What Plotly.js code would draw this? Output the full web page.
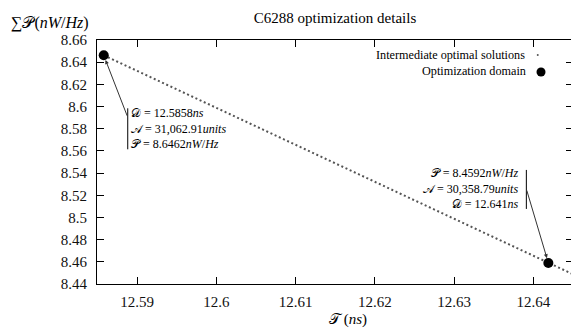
<!DOCTYPE html>
<html><head><meta charset="utf-8">
<script src="https://cdn.plot.ly/plotly-3.0.1.min.js"></script>
<style>html,body{margin:0;padding:0;overflow:hidden;background:#fff}</style>
</head><body><div id="chart" style="width:573px;height:330px"></div>
<script>
// Data
const titleText = 'C6288 optimization details';
const seriesNames = ['Intermediate optimal solutions', 'Optimization domain'];
const solutionsX = [12.5858, 12.6460];   // intermediate optimal solutions (run off the right edge)
const solutionsY = [8.6462, 8.4455];
const domainX = [12.5858, 12.6419];
const domainY = [8.6462, 8.4590];
const delayLabels = ['12.5858', '12.641'];
const powerLabels = ['8.6462', '8.4592'];
const areaLabels = ['31,062.91', '30,358.79'];
const xTicks = [12.59, 12.6, 12.61, 12.62, 12.63, 12.64];
const xTickLabels = ['12.59', '12.6', '12.61', '12.62', '12.63', '12.64'];
const yTicks = [8.44, 8.46, 8.48, 8.5, 8.52, 8.54, 8.56, 8.58, 8.6, 8.62, 8.64, 8.66];
const yTickLabels = ['8.44', '8.46', '8.48', '8.5', '8.52', '8.54', '8.56', '8.58', '8.6', '8.62', '8.64', '8.66'];

const SERIF = 'Liberation Serif';
const MATH = 'Liberation Serif, DejaVu Serif, serif';

const traces = [
  {x: solutionsX, y: solutionsY, mode: 'lines', name: seriesNames[0], showlegend: false,
   line: {color: '#555', width: 2, dash: '2px,2.6px'}},
  {x: domainX, y: domainY, mode: 'markers', name: seriesNames[1], showlegend: false,
   marker: {color: '#000', size: 10}, cliponaxis: false}
];

const lines1 = ['𝒟 = ' + delayLabels[0] + '<i>ns</i>',
                '𝒜 = ' + areaLabels[0] + '<i>units</i>',
                '𝒫 = ' + powerLabels[0] + '<i>nW</i>/<i>Hz</i>'];
const lines2 = ['𝒫 = ' + powerLabels[1] + '<i>nW</i>/<i>Hz</i>',
                '𝒜 = ' + areaLabels[1] + '<i>units</i>',
                '𝒟 = ' + delayLabels[1] + '<i>ns</i>'];

const annFont = {family: MATH, size: 12, color: '#000'};
const annotations = [
  {x: domainX[0], y: domainY[0], xref: 'x', yref: 'y', text: '', showarrow: true,
   ax: 24, ay: 62, arrowhead: 2, arrowsize: 0.8, arrowwidth: 1, arrowcolor: '#333', standoff: 5},
  {x: domainX[1], y: domainY[1], xref: 'x', yref: 'y', text: '', showarrow: true,
   ax: -22, ay: -74, arrowhead: 2, arrowsize: 0.8, arrowwidth: 1, arrowcolor: '#333', standoff: 5},
  {x: domainX[0], y: domainY[0], xref: 'x', yref: 'y', text: lines1.join('<br>'), showarrow: false,
   xanchor: 'left', yanchor: 'middle', align: 'left', xshift: 25, yshift: -73, font: annFont},
  {x: domainX[1], y: domainY[1], xref: 'x', yref: 'y', text: lines2.join('<br>'), showarrow: false,
   xanchor: 'right', yanchor: 'middle', align: 'right', xshift: -28, yshift: 74, font: annFont},
  // y-axis label (horizontal, top-left)
  {xref: 'paper', yref: 'paper', x: -0.185, y: 1.07, xanchor: 'left', yanchor: 'middle',
   text: '∑𝒫(<i>nW</i>/<i>Hz</i>)', showarrow: false, font: {family: MATH, size: 16, color: '#000'}},
  // x-axis label
  {xref: 'paper', yref: 'paper', x: 0.527, y: -0.145, xanchor: 'center', yanchor: 'middle',
   text: '𝒯 (<i>ns</i>)', showarrow: false, font: {family: MATH, size: 15, color: '#000'}},
  // legend texts
  {xref: 'paper', yref: 'paper', x: 0.904, y: 0.9385, xanchor: 'right', yanchor: 'middle',
   text: seriesNames[0], showarrow: false, font: {family: SERIF, size: 12.2, color: '#000'}},
  {xref: 'paper', yref: 'paper', x: 0.906, y: 0.871, xanchor: 'right', yanchor: 'middle',
   text: seriesNames[1], showarrow: false, font: {family: SERIF, size: 12.2, color: '#000'}}
];

const shapes = [
  // vertical bars next to the annotation texts
  {type: 'line', xref: 'x', yref: 'y', xsizemode: 'pixel', ysizemode: 'pixel',
   xanchor: domainX[0], yanchor: domainY[0], x0: 24, x1: 24, y0: -53, y1: -94,
   line: {color: '#000', width: 1}},
  {type: 'line', xref: 'x', yref: 'y', xsizemode: 'pixel', ysizemode: 'pixel',
   xanchor: domainX[1], yanchor: domainY[1], x0: -22, x1: -22, y0: 93, y1: 54,
   line: {color: '#000', width: 1}},
  // legend symbols
  {type: 'circle', xref: 'paper', yref: 'paper', xsizemode: 'pixel', ysizemode: 'pixel',
   xanchor: 0.926, yanchor: 0.9385, x0: -1, x1: 1, y0: -1, y1: 1,
   fillcolor: '#555', line: {width: 0}},
  {type: 'circle', xref: 'paper', yref: 'paper', xsizemode: 'pixel', ysizemode: 'pixel',
   xanchor: 0.9328, yanchor: 0.869, x0: -4.5, x1: 4.5, y0: -4.5, y1: 4.5,
   fillcolor: '#000', line: {width: 0}}
];

const xaxis = {
  showgrid: false, zeroline: false, showline: true, linecolor: '#000', linewidth: 1,
  mirror: 'allticks', ticks: 'inside', ticklen: 7, tickwidth: 1, tickcolor: '#000',
  tickfont: {family: 'Liberation Serif', size: 15, color: '#111'},
  tickmode: 'array', tickvals: xTicks, ticktext: xTickLabels,
  range: [12.58495, 12.64501], ticklabelstandoff: 4
};
const yaxis = {
  showgrid: false, zeroline: false, showline: true, linecolor: '#000', linewidth: 1,
  mirror: 'allticks', ticks: 'inside', ticklen: 7, tickwidth: 1, tickcolor: '#000',
  tickfont: {family: 'Liberation Serif', size: 15, color: '#111'},
  tickmode: 'array', tickvals: yTicks, ticktext: yTickLabels,
  range: [8.44, 8.66], ticklabelstandoff: 6
};

const layout = {
  width: 573, height: 330,
  margin: {l: 97, r: 0, t: 40, b: 46, pad: 0},
  paper_bgcolor: '#fff', plot_bgcolor: '#fff',
  showlegend: false,
  title: {text: titleText, font: {family: SERIF, size: 15, color: '#000'},
          x: 0.5, xref: 'paper', y: 0.945, yref: 'container', yanchor: 'middle'},
  xaxis: xaxis,
  yaxis: yaxis,
  annotations: annotations,
  shapes: shapes
};

Plotly.newPlot('chart', traces, layout, {displayModeBar: false, staticPlot: true});
</script>
</body></html>
